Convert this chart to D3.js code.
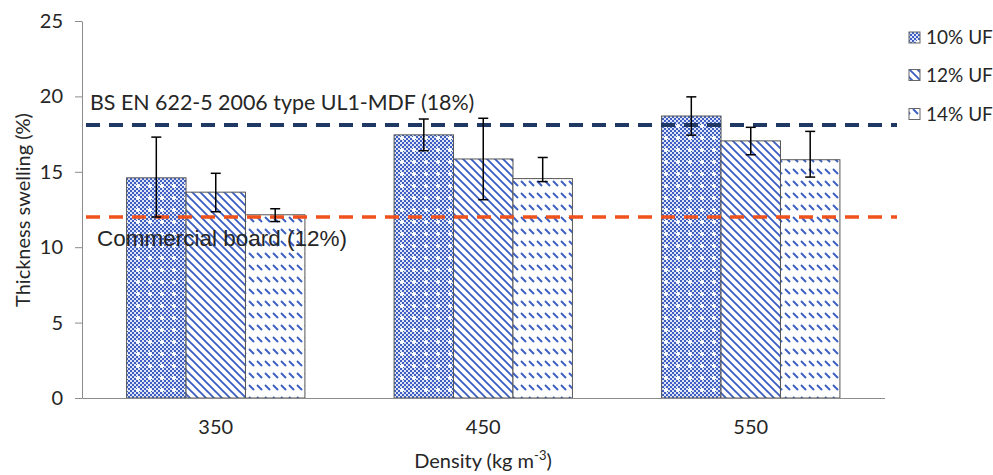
<!DOCTYPE html>
<html>
<head>
<meta charset="utf-8">
<script src="https://cdn.jsdelivr.net/npm/d3@7"></script>
<style>
  body { margin: 0; background: #fff; }
  text { font-family: Lato, "Noto Sans", sans-serif; fill: #262626; }
</style>
</head>
<body>
<div id="chart"></div>
<script>
// data
const densities = ["350", "450", "550"];
const series = ["10% UF", "12% UF", "14% UF"];
const swelling = [
  [14.6, 17.45, 18.7],   // 10% UF
  [13.65, 15.85, 17.05], // 12% UF
  [12.15, 14.55, 15.8]   // 14% UF
];
const errPlus = [
  [2.7, 1.05, 1.27],
  [1.25, 2.7, 0.9],
  [0.4, 1.4, 1.88]
];
const errMinus = [
  [2.6, 1.05, 1.27],
  [1.3, 2.7, 0.92],
  [0.45, 0.2, 1.15]
];
const yTicks = [0, 5, 10, 15, 20, 25];
const refLines = [
  { value: 18.1, label: "BS EN 622-5 2006 type UL1-MDF (18%)", color: "#203864" },
  { value: 12, label: "Commercial board (12%)", color: "#f0521e" }
];

const width = 993, height = 475;
const margin = { top: 21, right: 108.5, bottom: 77, left: 82 };

const svg = d3.select("#chart").append("svg")
    .attr("width", width)
    .attr("height", height);

// fill patterns
const defs = svg.append("defs");
const blue = "#3d5fc2";

let p1 = defs.append("pattern").attr("id", "pat0")
    .attr("patternUnits", "userSpaceOnUse").attr("width", 12).attr("height", 12);
p1.append("rect").attr("width", 12).attr("height", 12).attr("fill", "#dfe5f6");
for (let i = 0; i < 6; i++) {
  for (let j = 0; j < 6; j++) {
    if ((i + j) % 2 == 0) {
      p1.append("rect").attr("x", i * 2).attr("y", j * 2)
        .attr("width", 2).attr("height", 2).attr("fill", blue);
    }
  }
}
p1.append("rect").attr("x", 5).attr("y", 4).attr("width", 2).attr("height", 4).attr("fill", "#fff");
p1.append("rect").attr("x", 4).attr("y", 5).attr("width", 4).attr("height", 2).attr("fill", "#fff");

let p2 = defs.append("pattern").attr("id", "pat1")
    .attr("patternUnits", "userSpaceOnUse").attr("width", 8).attr("height", 8);
p2.append("rect").attr("width", 8).attr("height", 8).attr("fill", "#fff");
p2.append("path").attr("d", "M-2,-2 L10,10 M-2,6 L2,10 M6,-2 L10,2")
    .attr("stroke", blue).attr("stroke-width", 1.9);

let p3 = defs.append("pattern").attr("id", "pat2")
    .attr("patternUnits", "userSpaceOnUse").attr("width", 8).attr("height", 12);
p3.append("rect").attr("width", 8).attr("height", 12).attr("fill", "#fff");
p3.append("path").attr("d", "M1,1 L6,6")
    .attr("stroke", blue).attr("stroke-width", 1.9);

// scales
const x = d3.scaleBand()
    .domain(densities)
    .range([margin.left, width - margin.right])
    .paddingInner(1 / 3)
    .paddingOuter(1 / 6);

const xs = d3.scaleBand()
    .domain(series)
    .range([0, x.bandwidth()]);

const y = d3.scaleLinear()
    .domain([0, 25])
    .range([height - margin.bottom, margin.top]);

// y axis
const yAxis = svg.append("g")
    .attr("transform", "translate(" + margin.left + ",0)")
    .call(d3.axisLeft(y).tickValues(yTicks).tickSize(7).tickPadding(12).tickSizeOuter(0));
yAxis.selectAll("line").attr("stroke", "#8c8c8c");
yAxis.select(".domain").attr("stroke", "#8c8c8c");
yAxis.selectAll("text").style("font-size", "20px").attr("font-family", null);

// bars
series.forEach(function (s, si) {
  svg.append("g")
    .selectAll("rect")
    .data(densities)
    .enter()
    .append("rect")
    .attr("x", function (d) { return x(d) + xs(s); })
    .attr("y", function (d, i) { return y(swelling[si][i]); })
    .attr("width", xs.bandwidth())
    .attr("height", function (d, i) { return y(0) - y(swelling[si][i]); })
    .attr("fill", "url(#pat" + si + ")")
    .attr("stroke", "#555")
    .attr("stroke-width", 1);
});

// x axis
const xAxis = svg.append("g")
    .attr("transform", "translate(0," + y(0) + ")")
    .call(d3.axisBottom(x).tickSize(0).tickPadding(22).tickSizeOuter(0));
xAxis.select(".domain").attr("stroke", "#8c8c8c");
xAxis.selectAll("text").style("font-size", "20px").attr("font-family", null);

// reference lines
refLines.forEach(function (r) {
  svg.append("line")
    .attr("x1", margin.left + 4)
    .attr("x2", 897)
    .attr("y1", y(r.value))
    .attr("y2", y(r.value))
    .attr("stroke", r.color)
    .attr("stroke-width", r.value > 15 ? 4 : 3.5)
    .attr("stroke-dasharray", "14 9");
});

svg.append("text")
    .attr("x", 90)
    .attr("y", 110)
    .style("font-size", "21.4px")
    .text(refLines[0].label);

svg.append("text")
    .attr("x", 97)
    .attr("y", 246)
    .style("font-size", "22.5px")
    .style("font-family", "'Liberation Sans', Arial, sans-serif")
    .text(refLines[1].label);

// error bars
series.forEach(function (s, si) {
  const g = svg.append("g");
  densities.forEach(function (d, i) {
    const cx = x(d) + xs(s) + xs.bandwidth() / 2;
    const top = y(swelling[si][i] + errPlus[si][i]);
    const bot = y(swelling[si][i] - errMinus[si][i]);
    g.append("line").attr("x1", cx).attr("x2", cx).attr("y1", top).attr("y2", bot)
      .attr("stroke", "#000").attr("stroke-width", 1.5);
    g.append("line").attr("x1", cx - 5).attr("x2", cx + 5).attr("y1", top).attr("y2", top)
      .attr("stroke", "#000").attr("stroke-width", 1.5);
    g.append("line").attr("x1", cx - 5).attr("x2", cx + 5).attr("y1", bot).attr("y2", bot)
      .attr("stroke", "#000").attr("stroke-width", 1.5);
  });
});

// axis titles
svg.append("text")
    .attr("transform", "translate(30," + 210 + ") rotate(-90)")
    .attr("text-anchor", "middle")
    .style("font-size", "20px")
    .text("Thickness swelling (%)");

const xt = svg.append("text")
    .attr("x", 483)
    .attr("y", 468)
    .attr("text-anchor", "middle")
    .style("font-size", "20px")
    .text("Density (kg m");
xt.append("tspan").attr("dy", -8).style("font-size", "13px").text("-3");
xt.append("tspan").attr("dy", 8).text(")");

// legend
const legend = svg.append("g");
series.forEach(function (s, si) {
  const ly = [37.5, 75, 114][si];
  legend.append("rect")
    .attr("x", 909).attr("y", ly - 5.5)
    .attr("width", 11).attr("height", 11)
    .attr("fill", "url(#pat" + si + ")")
    .attr("stroke", "#666");
  legend.append("text")
    .attr("x", 926).attr("y", ly + 6.5)
    .style("font-size", "19px")
    .text(s);
});
</script>
</body>
</html>
